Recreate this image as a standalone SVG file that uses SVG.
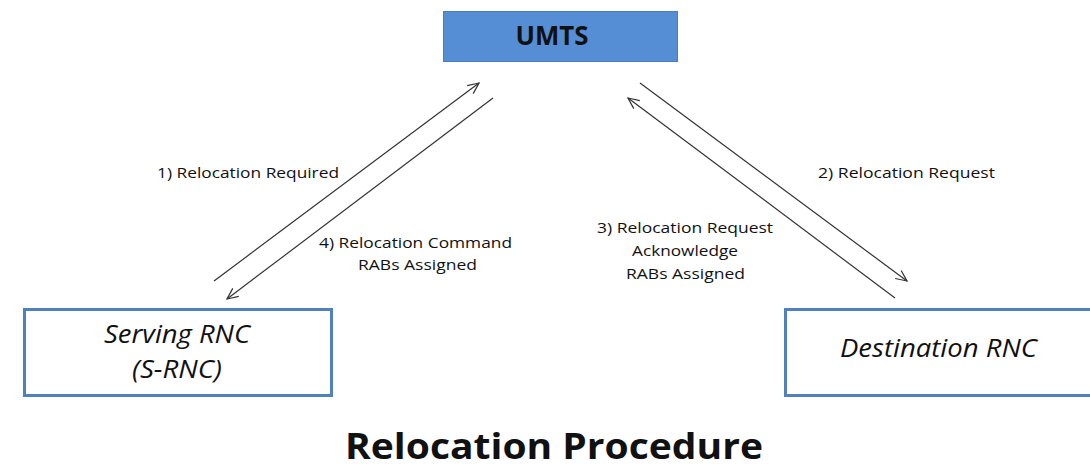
<svg xmlns="http://www.w3.org/2000/svg" width="1090" height="469" viewBox="0 0 1090 469">
<defs>
<style>
.lbl{font-family:"Open Sans","Liberation Sans",sans-serif;font-size:15px;fill:#111;text-anchor:middle}
.node{font-family:"Open Sans","Liberation Sans",sans-serif;font-size:25px;font-style:italic;fill:#111;text-anchor:middle}
.box{fill:#fff;stroke:#4F81BD;stroke-width:3}
.conn{stroke:#333;stroke-width:1.2;fill:none;marker-end:url(#ah)}
</style>
<marker id="ah" markerWidth="14" markerHeight="14" refX="12" refY="6" orient="auto" markerUnits="userSpaceOnUse">
<path d="M1,1 L12,6 L1,11" fill="none" stroke="#333" stroke-width="1.2"/>
</marker>
</defs>
<rect width="1090" height="469" fill="#fff"/>
<g id="umts">
<rect x="443.5" y="11.5" width="234" height="50" fill="#558ED5" stroke="#4A7EBB" stroke-width="1"/>
<text x="552" y="45" font-family="'Open Sans','Liberation Sans',sans-serif" font-size="26" font-weight="bold" fill="#111" text-anchor="middle" textLength="73" lengthAdjust="spacingAndGlyphs">UMTS</text>
</g>
<g id="serving-rnc">
<rect class="box" x="24.5" y="309.5" width="307" height="86"/>
<text class="node" x="177" y="343" textLength="146" lengthAdjust="spacingAndGlyphs">Serving RNC</text>
<text class="node" x="177" y="378" textLength="90" lengthAdjust="spacingAndGlyphs">(S-RNC)</text>
</g>
<g id="destination-rnc">
<rect class="box" x="785.5" y="309.5" width="310" height="86"/>
<text class="node" x="938.5" y="357" textLength="197" lengthAdjust="spacingAndGlyphs">Destination RNC</text>
</g>
<g id="connectors">
<line class="conn" x1="214" y1="281" x2="479" y2="83"/>
<line class="conn" x1="493" y1="98" x2="227" y2="299"/>
<line class="conn" x1="640" y1="83" x2="907" y2="281"/>
<line class="conn" x1="895" y1="298" x2="628" y2="98"/>
<text class="lbl" x="248" y="178" textLength="182" lengthAdjust="spacingAndGlyphs">1) Relocation Required</text>
<text class="lbl" x="906.5" y="178" textLength="177" lengthAdjust="spacingAndGlyphs">2) Relocation Request</text>
<text class="lbl" x="685" y="233" textLength="176" lengthAdjust="spacingAndGlyphs">3) Relocation Request</text>
<text class="lbl" x="685" y="256" textLength="106" lengthAdjust="spacingAndGlyphs">Acknowledge</text>
<text class="lbl" x="685.5" y="279" textLength="119" lengthAdjust="spacingAndGlyphs">RABs Assigned</text>
<text class="lbl" x="415.5" y="248" textLength="193" lengthAdjust="spacingAndGlyphs">4) Relocation Command</text>
<text class="lbl" x="417.5" y="270" textLength="119" lengthAdjust="spacingAndGlyphs">RABs Assigned</text>
</g>
<text id="title" x="554" y="459" font-family="'Open Sans','Liberation Sans',sans-serif" font-size="36" font-weight="bold" fill="#111" text-anchor="middle" textLength="418" lengthAdjust="spacingAndGlyphs">Relocation Procedure</text>
</svg>
